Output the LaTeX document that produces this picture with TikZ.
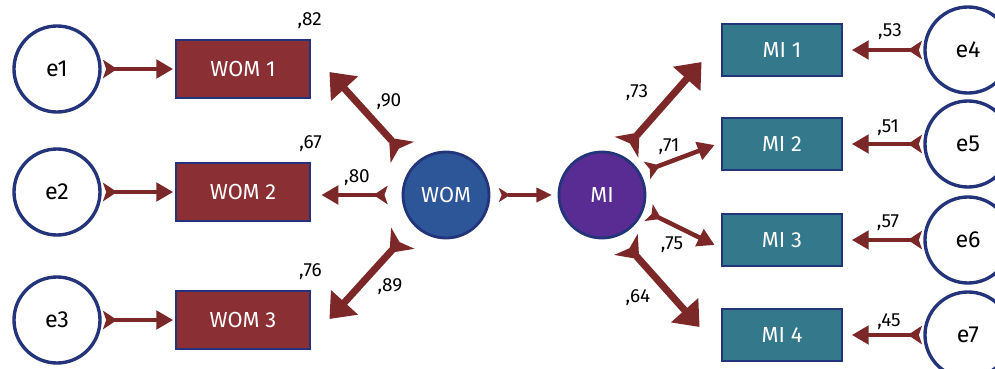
\documentclass[tikz,border=0pt]{standalone}
\usepackage{fontspec}
\setmainfont{Fira Sans}
\usepackage{xcolor}
\usetikzlibrary{
  positioning,
  calc,
  arrows.meta
}
\definecolor{navy}{RGB}{36,52,122}
\definecolor{womred}{RGB}{138,48,52}
\definecolor{miteal}{RGB}{52,120,140}
\definecolor{womblue}{RGB}{44,86,152}
\definecolor{mipurple}{RGB}{88,44,146}
\definecolor{arrowred}{RGB}{124,40,40}

\begin{document}
\begin{tikzpicture}[x=0.025cm, y=-0.025cm,
      errvar/.style={circle, draw=navy, line width=2.4pt, fill=white, minimum size=2.15cm, inner sep=0pt, font=\fontsize{16.5}{18}\selectfont},
      womitem/.style={rectangle, draw=navy, line width=2pt, fill=womred, text=white, minimum width=3.35cm, minimum height=1.45cm, font=\fontsize{15.5}{18}\selectfont},
      miitem/.style={rectangle, draw=navy, line width=2pt, fill=miteal, text=white, minimum width=3.0cm, minimum height=1.3cm, font=\fontsize{15.5}{18}\selectfont},
      latent/.style={circle, draw=navy, line width=2pt, fill=#1, text=white, minimum size=2.15cm, inner sep=0pt, font=\fontsize{15.5}{18}\selectfont},
      lbl/.style={font=\fontsize{13.5}{15}\selectfont, inner sep=1pt},
      bigarrow/.style={arrowred, line width=5pt, {Stealth[reversed, length=14pt, width=22pt, inset=3.5pt]}-{Triangle[length=16pt, width=25pt]}},
      smallarrow/.style={arrowred, line width=3.2pt, {Stealth[reversed, length=10pt, width=13pt, inset=2.2pt]}-{Triangle[length=12pt, width=13pt]}},
      patharrow/.style={arrowred, line width=2.2pt, {Stealth[reversed, length=8pt, width=10pt, inset=2pt]}-{Triangle[length=11pt, width=10pt]}}
    ]
      \useasboundingbox (0,0) rectangle (995,369);

      % Error terms
      \node[errvar] (e1) at (57,69) {e1};
      \node[errvar] (e2) at (57,192) {e2};
      \node[errvar] (e3) at (57,320) {e3};
      \node[errvar] (e4) at (968,50) {e4};
      \node[errvar] (e5) at (968,144) {e5};
      \node[errvar] (e6) at (968,240) {e6};
      \node[errvar] (e7) at (968,335) {e7};

      % Indicators
      \node[womitem] (wom1) at (243,69) {WOM 1};
      \node[womitem] (wom2) at (243,192) {WOM 2};
      \node[womitem] (wom3) at (243,320) {WOM 3};
      \node[miitem] (mi1) at (782,50) {MI 1};
      \node[miitem] (mi2) at (782,144) {MI 2};
      \node[miitem] (mi3) at (782,240) {MI 3};
      \node[miitem] (mi4) at (782,335) {MI 4};

      % Latent variables
      \node[latent=womblue] (wom) at (446,195) {WOM};
      \node[latent=mipurple] (mi) at (602,195) {MI};

      % Arrows
      \draw[smallarrow, shorten <=1pt, shorten >=1pt] (e1) -- (wom1);
      \draw[smallarrow, shorten <=1pt, shorten >=1pt] (e2) -- (wom2);
      \draw[smallarrow, shorten <=1pt, shorten >=1pt] (e3) -- (wom3);
      \draw[bigarrow, shorten <=12pt] (wom.137) -- ($(wom1.east)+(18,3)$);
      \draw[smallarrow, shorten <=10pt] (wom.west) -- ($(wom2.east)+(10,3)$);
      \draw[bigarrow, shorten <=12pt] (wom.224) -- ($(wom3.east)+(18,-1)$);
      \draw[patharrow, shorten <=6pt, shorten >=4pt] (wom) -- (mi);
      \draw[bigarrow, shorten <=7pt] (mi.66) -- ($(mi1.west)+(-19,12)$);
      \draw[smallarrow, shorten <=5pt] (mi.30) -- ($(mi2.west)+(-6,1)$);
      \draw[smallarrow, shorten <=4pt] (mi.340) -- ($(mi3.west)+(-6,5)$);
      \draw[bigarrow, shorten <=8pt] (mi.292) -- ($(mi4.west)+(-21,-8)$);
      \draw[smallarrow, shorten <=1pt, shorten >=6pt] (e4) -- (mi1);
      \draw[smallarrow, shorten <=1pt, shorten >=6pt] (e5) -- (mi2);
      \draw[smallarrow, shorten <=1pt, shorten >=6pt] (e6) -- (mi3);
      \draw[smallarrow, shorten <=1pt, shorten >=6pt] (e7) -- (mi4);

      % Labels
      \node[lbl, above left=0.2cm and -0.3cm of wom1.north east, anchor=south east] (r1) {,82};
      \node[lbl, above left=0.2cm and -0.3cm of wom2.north east, anchor=south east] (r2) {,67};
      \node[lbl, above left=0.2cm and -0.3cm of wom3.north east, anchor=south east] (r3) {,76};
      \node[lbl] (l90) at (389,102) {,90};
      \node[lbl] (l80) at (357,178) {,80};
      \node[lbl] (l89) at (390,287) {,89};
      \node[lbl] (l73) at (637,93) {,73};
      \node[lbl] (l71) at (669,147) {,71};
      \node[lbl] (l75) at (672,245) {,75};
      \node[lbl] (l64) at (638,298) {,64};
      \node[lbl] (r4) at (890,32) {,53};
      \node[lbl] (r5) at (888,128) {,51};
      \node[lbl] (r6) at (888,223) {,57};
      \node[lbl] (r7) at (889,322) {,45};
    \end{tikzpicture}
\end{document}
